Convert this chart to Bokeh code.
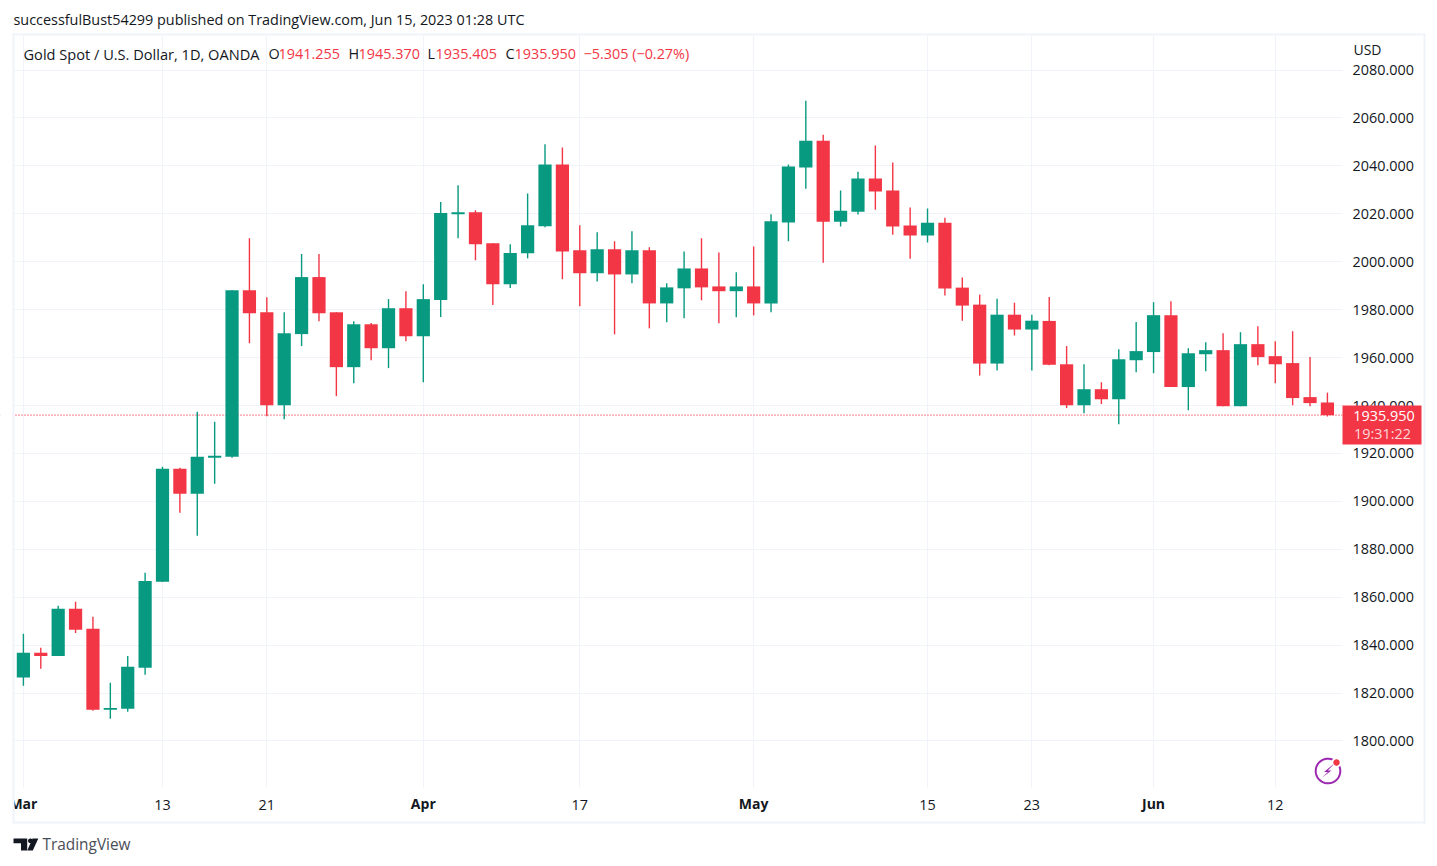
import numpy as np
from bokeh.plotting import figure
from bokeh.models import (Range1d, LinearAxis, FixedTicker, Label, BoxAnnotation, PolyAnnotation, Span,
                          ColumnDataSource, Grid)
from bokeh.embed import file_html
from bokeh.resources import INLINE

# ---------- data (USD) ----------
opens = [1826.5,1836.8,1835.5,1855.2,1846.8,1813.0,1813.4,1830.5,1866.4,1913.6,1903.2,1918.2,1918.6,
         1988.1,1978.9,1940.1,1969.8,1993.6,1978.9,1956.0,1973.9,1963.9,1980.6,1968.9,1984.0,2019.8,2020.7,2007.7,1990.6,
         2003.5,2014.8,2040.6,2004.8,1995.2,2005.2,1994.7,2004.8,1982.6,1988.9,1997.2,1989.7,1987.7,1989.7,1982.6,2016.4,
         2039.3,2050.5,2016.7,2020.9,2034.7,2029.7,2015.1,2010.9,2016.3,1989.2,1982.1,1957.5,1977.9,1971.7,1975.3,
         1957.2,1940.1,1946.8,1942.6,1958.9,1962.3,1977.7,1947.7,1961.4,1963.1,1939.7,1965.6,1960.6,1957.7,1943.5,1941.255]
closes = [1836.8,1835.5,1855.2,1846.4,1813.0,1813.8,1831.0,1866.8,1913.6,1903.2,1918.6,1919.0,1988.1,
          1978.5,1940.1,1970.2,1993.6,1978.5,1956.0,1973.9,1963.9,1980.6,1968.9,1984.4,2020.3,2020.7,2007.3,1990.6,2003.6,
          2015.2,2040.6,2004.3,1995.2,2005.2,1994.7,2004.8,1982.6,1989.3,1997.2,1989.3,1987.7,1989.7,1982.6,2016.9,2039.8,
          2050.5,2016.7,2021.3,2034.7,2029.3,2014.7,2010.9,2016.3,1988.8,1981.7,1957.5,1977.9,1971.7,1975.4,1957.0,
          1940.1,1946.8,1942.6,1959.3,1962.7,1977.7,1947.7,1961.8,1963.1,1939.7,1965.6,1960.2,1957.2,1943.1,1941.0,1935.95]
highs = [1844.7,1838.9,1856.4,1858.1,1851.8,1824.3,1835.5,1870.2,1914.4,1914.0,1937.4,1933.2,1988.1,
         2009.8,1985.2,1978.9,2003.2,2003.2,1978.9,1975.2,1974.4,1984.4,1987.7,1990.6,2024.9,2031.9,2021.5,2007.7,2007.3,
         2028.5,2049.0,2047.7,2015.2,2012.3,2008.5,2012.7,2006.0,1991.0,2004.3,2009.8,2003.9,1995.6,2006.4,2019.8,2040.6,
         2067.2,2053.0,2029.7,2037.6,2048.5,2041.4,2022.6,2022.2,2018.4,1993.4,1986.3,1984.6,1982.9,1977.9,1985.3,
         1964.8,1957.2,1949.7,1963.5,1974.8,1983.1,1983.5,1963.9,1966.4,1970.2,1970.6,1973.1,1966.8,1971.0,1960.2,1945.37]
lows = [1823.0,1830.1,1835.5,1845.1,1812.6,1809.3,1812.2,1827.6,1866.4,1895.2,1885.6,1907.3,1918.2,
        1966.0,1935.5,1934.3,1964.8,1975.2,1943.9,1949.3,1958.9,1955.6,1966.8,1949.7,1976.9,2009.8,2000.6,1981.9,1989.0,
        2001.4,2014.4,1992.7,1981.4,1991.8,1969.7,1991.0,1972.2,1974.7,1976.4,1983.9,1974.3,1976.8,1977.6,1978.9,2008.5,
        2030.5,1999.6,2014.7,2019.7,2021.7,2011.3,2001.3,2008.0,1985.9,1975.4,1952.5,1954.6,1969.2,1954.6,1956.8,
        1938.9,1936.8,1940.6,1932.2,1953.9,1953.5,1947.7,1938.0,1954.3,1939.7,1939.7,1956.8,1949.3,1940.1,1939.7,1935.405]
price_ticks = [1800,1820,1840,1860,1880,1900,1920,1940,1960,1980,2000,2020,2040,2060,2080]
number_tick_pos = [8,14,32,52,58,72]
number_tick_labels = ["13","21","17","15","23","12"]
month_tick_pos = [0,23,42,65]
month_tick_labels = ["Mar","Apr","May","Jun"]
last_price = 1935.95

UP, DOWN, GRID, INK = "#089981", "#f23645", "#f0f3fa", "#131722"
FONT = "Open Sans"
FS = "14.4px"

# canvas geometry: the frame fills the canvas so annotations are not clipped
W, H = 1430, 860
PANE_L, PANE_R, PANE_T, PANE_B = 14, 1342, 35, 787
X0, DX = 22.9, 17.387        # px of bar 0, px per bar
Y1940, DY = 405.0, 2.396     # px of 1940, px per USD
def ix(px): return (px - X0) / DX
def price(py): return 1940 + (Y1940 - py) / DY
def X(px): return px
def Y(py): return H - py

p = figure(width=W, height=H, output_backend="svg", toolbar_location=None,
           x_range=Range1d(ix(0), ix(W)), y_range=Range1d(price(H), price(0)),
           x_axis_location=None, y_axis_location=None, min_border=0,
           background_fill_color="white", border_fill_color="white")
p.outline_line_color = None
p.xgrid.visible = False
p.ygrid.visible = False

yax = LinearAxis(ticker=FixedTicker(ticks=price_ticks), axis_line_color=None, fixed_location=ix(PANE_R),
                 major_tick_line_color=None, minor_tick_line_color=None,
                 major_label_text_font=FONT, major_label_text_font_size=FS,
                 major_label_text_color=INK, major_label_standoff=4)
yax.major_label_overrides = {t: f"{t}.000" for t in price_ticks}
p.add_layout(yax, "right")

all_pos = number_tick_pos + month_tick_pos
xax = LinearAxis(ticker=FixedTicker(ticks=all_pos), axis_line_color=None, fixed_location=price(PANE_B),
                 major_tick_line_color=None, minor_tick_line_color=None,
                 major_label_text_font=FONT, major_label_text_font_size=FS,
                 major_label_text_color=INK, major_label_standoff=6)
xax.major_label_overrides = {**{a: b for a, b in zip(number_tick_pos, number_tick_labels)},
                             **{a: "" for a in month_tick_pos}}
p.add_layout(xax, "below")

p.add_layout(Grid(dimension=0, ticker=xax.ticker, grid_line_color=GRID, grid_line_width=1, level="underlay"))
p.add_layout(Grid(dimension=1, ticker=yax.ticker, grid_line_color=GRID, grid_line_width=1, level="underlay"))
p.add_layout(Span(location=last_price, dimension="width", line_color=DOWN, line_width=1.3, line_dash="1 2", level="underlay"))

def box(l, r, t, b, color, level="annotation"):
    p.add_layout(BoxAnnotation(left=X(l), right=X(r), top=Y(t), bottom=Y(b),
                               left_units="screen", right_units="screen", top_units="screen", bottom_units="screen",
                               fill_color=color, fill_alpha=1, line_color=None, level=level))

# mask grid outside the pane (drawn over grid, under axes and marks)
box(-10, W+10, -10, PANE_T, "white", "underlay")
box(-10, W+10, PANE_B, H+10, "white", "underlay")
box(-10, PANE_L, -10, H+10, "white", "underlay")
box(PANE_R, W+10, -10, H+10, "white", "underlay")

idx = np.arange(len(opens))
o, c, h, l = map(np.array, (opens, closes, highs, lows))
colors = [UP if a >= b else DOWN for a, b in zip(c, o)]
src = ColumnDataSource(dict(x=idx, top=np.maximum(o, c), bottom=np.minimum(o, c), high=h, low=l, color=colors))
p.segment("x", "high", "x", "low", source=src, line_color="color", line_width=1.4)
p.vbar("x", 0.76, "top", "bottom", source=src, fill_color="color", line_color=None)

def label(x, y, text, color=INK, size=FS, align="left", style="normal", alpha=1.0, font=FONT):
    p.add_layout(Label(x=X(x), y=Y(y - 0.8), x_units="screen", y_units="screen",
                       text=text, text_color=color, text_font=font, text_font_size=size, text_align=align,
                       text_baseline="middle", text_font_style=style, text_alpha=alpha))

def poly(xs, ys, fill=None, line=None, lw=1):
    p.add_layout(PolyAnnotation(xs=[X(a) for a in xs], ys=[Y(b) for b in ys], xs_units="screen", ys_units="screen",
                                fill_color=fill, fill_alpha=1 if fill else 0, line_color=line, line_width=lw, line_alpha=1 if line else 0))

# month labels (bold)
for pos, txt in zip(month_tick_pos, month_tick_labels):
    label(X0 + DX * pos, 804, txt, align="center", style="bold", size="14px")

# frame
box(-10, 13, 790, 821, "white")
box(12, 1425, 33, 35, GRID)
box(12, 1425, 821, 823, GRID)
box(12, 14, 33, 823, GRID)
box(1423, 1425, 33, 823, GRID)

# USD cover
box(1343, 1422, 36, 64, "white")
label(1367, 50, "USD", align="center", size="14px")

# last-price tag
box(1342, 1421, 405, 444, DOWN)
label(1383.5, 416, "1935.950", color="white", align="center")
label(1382, 434, "19:31:22", color="white", align="center", alpha=0.8)

# header
label(13, 19.8, "successfulBust54299 published on TradingView.com, Jun 15, 2023 01:28 UTC")
label(23, 54, "Gold Spot / U.S. Dollar, 1D, OANDA", size="14.6px")
for xp, t, col in [(268, "O", INK), (278, "1941.255", DOWN), (348, "H", INK), (358, "1945.370", DOWN),
                   (427, "L", INK), (435, "1935.405", DOWN), (505, "C", INK), (514, "1935.950", DOWN),
                   (583, "\u22125.305 (\u22120.27%)", DOWN)]:
    label(xp, 54, t, color=col)

# footer
label(42, 844.8, "TradingView", size="15.4px", color="#4a4e57")
poly([13, 26.7, 26.7, 20.5, 20.5, 13], [838, 838, 850, 850, 842.7, 842.7], fill=INK)
th = np.linspace(0, 2*np.pi, 24)
poly(29.8+2.3*np.cos(th), 840.3+2.3*np.sin(th), fill=INK)
poly([32, 37.8, 32.3, 26.8], [838, 838, 850, 850], fill=INK)

# icon
th = np.linspace(0, 2*np.pi, 60)
poly(1327.5+12.3*np.cos(th), 770.5+12.3*np.sin(th), line="#9c27b0", lw=2)
poly(1336+5*np.cos(th), 762+5*np.sin(th), fill="white")
poly(1336+3.2*np.cos(th), 762+3.2*np.sin(th), fill=DOWN)
poly([1332.5, 1323.5, 1327.3, 1321.5, 1331, 1327.3, 1333], [764, 771.5, 771.5, 777, 770, 770, 764], fill="#9c27b0")

open("out.html", "w").write(file_html(p, INLINE))
